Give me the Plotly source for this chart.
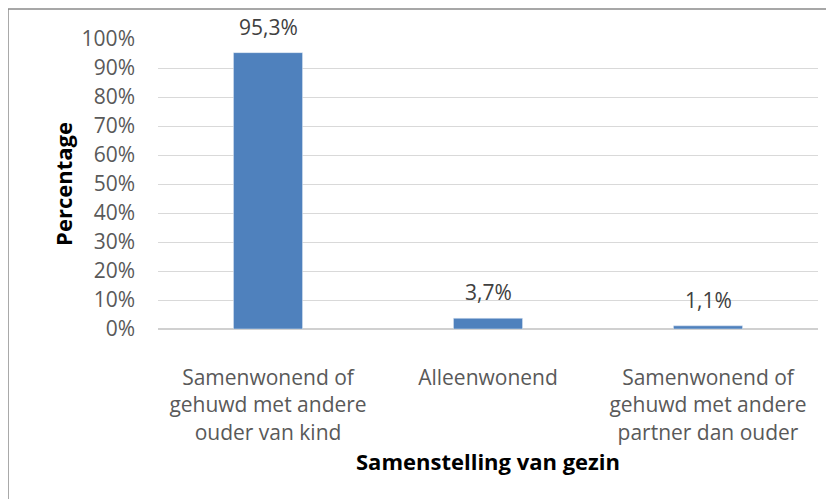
import plotly.graph_objects as go

categories = [
    "Samenwonend of<br>gehuwd met andere<br>ouder van kind",
    "Alleenwonend<br> <br> ",
    "Samenwonend of<br>gehuwd met andere<br>partner dan ouder",
]
percentages = [0.953, 0.037, 0.011]
tick_values = [0, 0.1, 0.2, 0.3, 0.4, 0.5, 0.6, 0.7, 0.8, 0.9, 1.0]

FONT = "Open Sans"
GREY = "#595959"

fig = go.Figure()

fig.add_trace(go.Bar(
    x=categories,
    y=percentages,
    marker_color="#4f81bd",
))

# data labels above the bars
annotations = [dict(
    x=categories[i], y=percentages[i],
    text=f"{percentages[i] * 100:.1f}%".replace(".", ","),
    showarrow=False, yanchor="bottom", yshift=10,
    font=dict(family=FONT, size=21, color="#404040"),
) for i in range(len(categories))]

# grey frame of the chart area (only top and left are visible in the crop)
fig.add_shape(type="rect", xref="paper", yref="paper",
              x0=-0.2273, x1=1.1, y0=-0.7, y1=1.1034,
              line=dict(color="#8a8a8a", width=1.5), layer="below")

fig.update_xaxes(
    tickfont=dict(family=FONT, size=21, color=GREY),
    ticklabelstandoff=34,
    showgrid=False,
    title=dict(text="<b>Samenstelling van gezin</b>",
               font=dict(family=FONT, size=22, color="black"),
               standoff=8),
)
fig.update_yaxes(
    range=[0, 1],
    tickvals=tick_values,
    tickformat=".0%",
    tickfont=dict(family=FONT, size=21, color=GREY),
    ticklabelstandoff=22,
    gridcolor="#d9d9d9",
    gridwidth=1,
    zeroline=True,
    zerolinecolor="#d0d0d0",
    zerolinewidth=1.5,
    title=dict(text="<b>Percentage</b>",
               font=dict(family=FONT, size=22, color="black"),
               standoff=2),
)

# the page body adds 8px, so the margins are shifted to compensate
fig.update_layout(
    width=834, height=499,
    margin=dict(l=150, r=24, t=31, b=178, autoexpand=False),
    plot_bgcolor="white",
    paper_bgcolor="white",
    bargap=0.686,
    separators=",.",
    showlegend=False,
    annotations=annotations,
)

fig.write_html("out.html")
